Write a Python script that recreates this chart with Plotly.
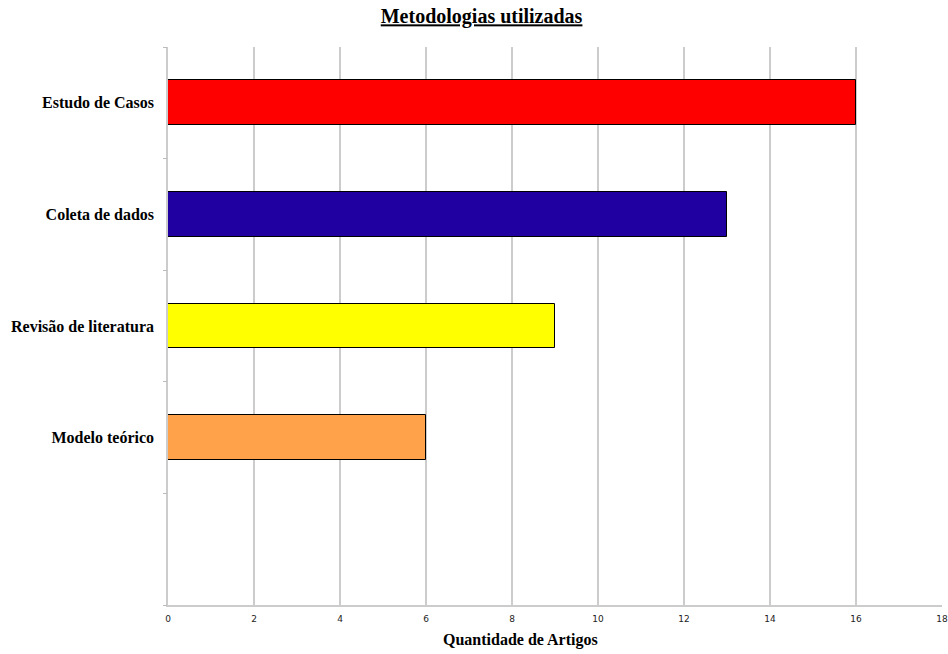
import plotly.graph_objects as go

# Data
categories = ["Estudo de Casos", "Coleta de dados", "Revisão de literatura", "Modelo teórico"]
counts = [16, 13, 9, 6]
bar_colors = ["#ff0000", "#2000a0", "#ffff00", "#ffa24a"]
x_ticks = [0, 2, 4, 6, 8, 10, 12, 14, 16, 18]

# slot positions, top to bottom, with one empty slot left at the bottom
n_slots = len(categories) + 1
positions = [n_slots - 1 - i for i in range(len(categories))]
boundaries = [p - 0.5 for p in range(n_slots + 1)]

serif = "Liberation Serif, Times New Roman, serif"
sans = "DejaVu Sans, Verdana, sans-serif"

fig = go.Figure()
fig.add_trace(go.Bar(
    x=counts,
    y=positions,
    orientation="h",
    width=0.4,
    marker=dict(color=bar_colors, line=dict(color="#000000", width=1)),
    hoverinfo="skip",
))
# invisible trace that carries the slot-boundary tick marks
fig.add_trace(go.Scatter(x=[None], y=[None], yaxis="y2", showlegend=False))

fig.update_layout(
    width=948,
    height=654,
    margin=dict(l=168, r=6, t=47, b=49, autoexpand=False),
    paper_bgcolor="white",
    plot_bgcolor="white",
    showlegend=False,
    bargap=0,
    xaxis=dict(
        range=[0, 18],
        tickvals=x_ticks,
        ticks="",
        showgrid=True,
        gridcolor="#cccccc",
        gridwidth=1.5,
        zeroline=False,
        showline=True,
        linecolor="#cccccc",
        linewidth=1.5,
        automargin=False,
        tickfont=dict(family=sans, size=9, color="#222222"),
        ticklabelstandoff=4,
    ),
    yaxis=dict(
        range=[-0.5, n_slots - 0.5],
        tickvals=positions,
        ticktext=[f"<b>{c}</b>" for c in categories],
        ticks="",
        showgrid=False,
        zeroline=False,
        showline=True,
        linecolor="#cccccc",
        linewidth=1.5,
        automargin=False,
        tickfont=dict(family=serif, size=16, color="#000000"),
        ticklabelstandoff=9,
    ),
    yaxis2=dict(
        overlaying="y",
        anchor="x",
        side="left",
        range=[-0.5, n_slots - 0.5],
        tickvals=boundaries,
        ticks="outside",
        ticklen=4,
        tickwidth=1,
        tickcolor="#bbbbbb",
        showticklabels=False,
        showgrid=False,
        zeroline=False,
        showline=False,
        automargin=False,
    ),
    title=dict(
        text="<b><u>Metodologias utilizadas</u></b>",
        x=0.508,
        xanchor="center",
        y=0.975,
        yanchor="middle",
        font=dict(family=serif, size=20, color="#000000"),
    ),
    annotations=[
        dict(
            text="<b>Quantidade de Artigos</b>",
            xref="paper", yref="paper",
            x=0.455, y=-0.062,
            xanchor="center", yanchor="middle",
            showarrow=False,
            font=dict(family=serif, size=16, color="#000000"),
        )
    ],
)

fig.write_html("out.html")
